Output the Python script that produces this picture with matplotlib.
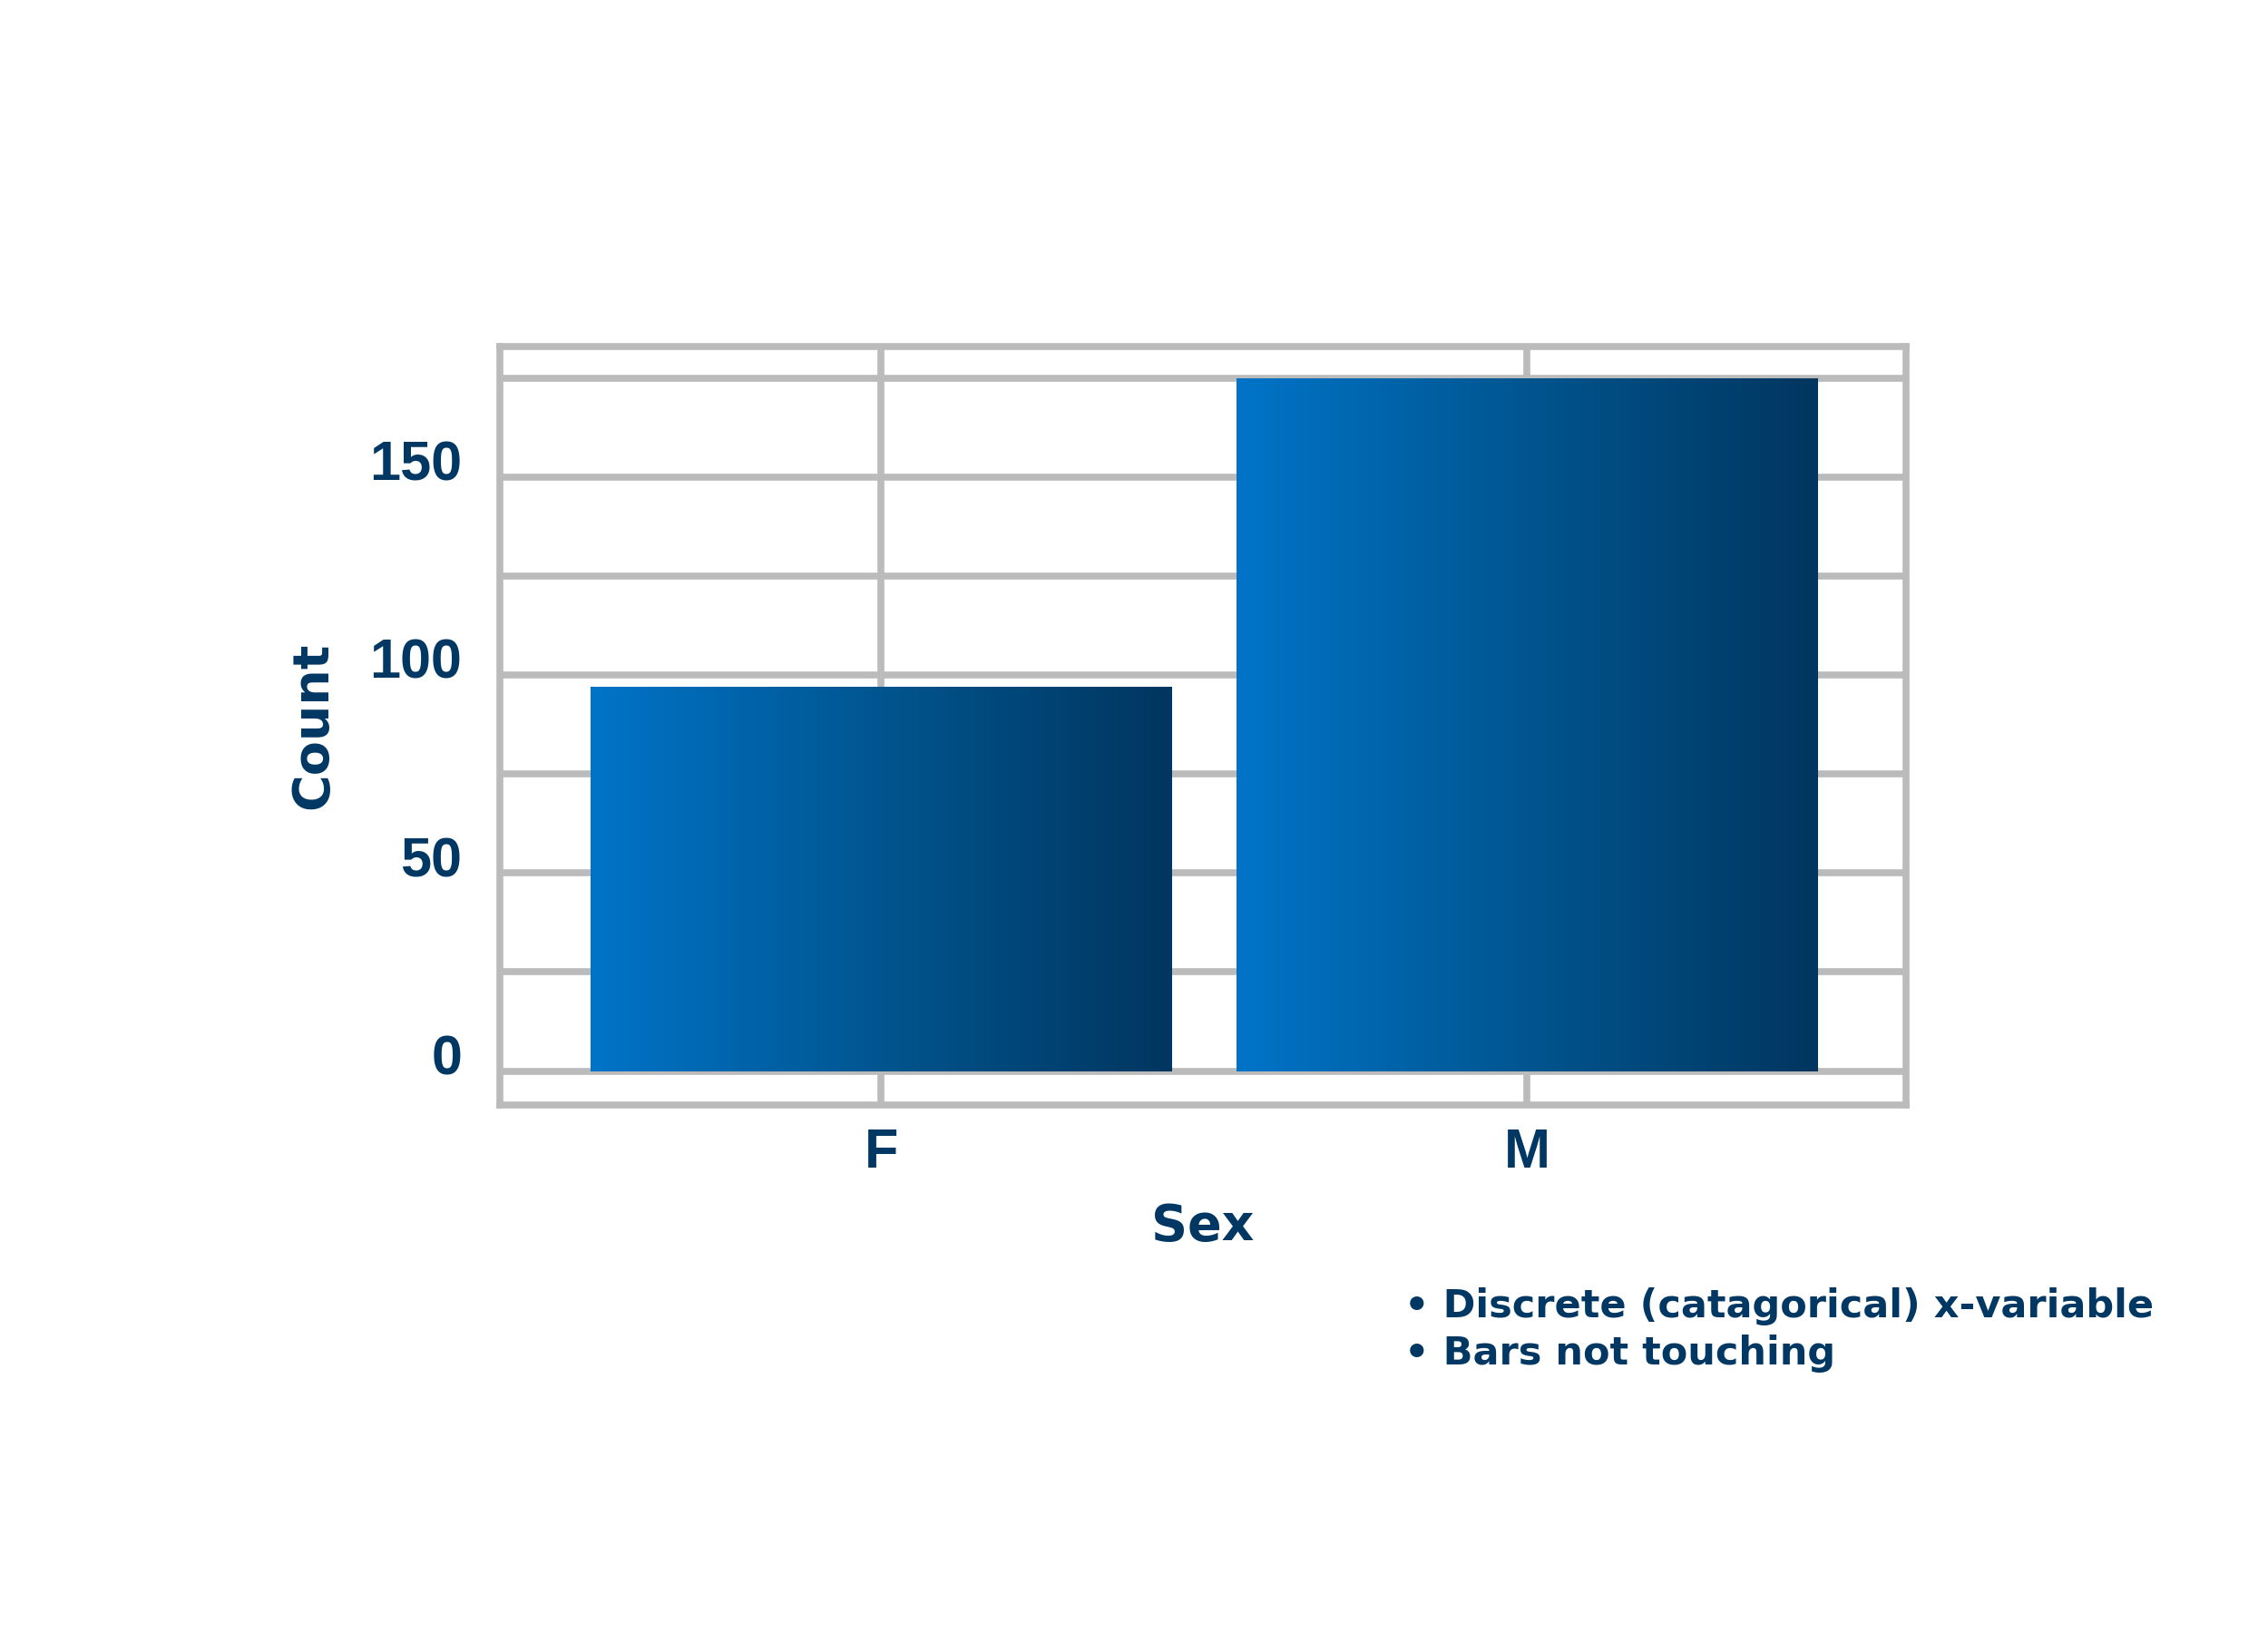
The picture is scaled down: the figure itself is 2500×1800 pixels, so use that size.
import matplotlib
matplotlib.use("Agg")
import matplotlib.pyplot as plt
import numpy as np
from matplotlib.colors import LinearSegmentedColormap
from matplotlib.transforms import ScaledTranslation

# data
categories = ["F", "M"]
counts = [97, 175]
label_ticks = [0, 50, 100, 150]
grid_ticks = [0, 25, 50, 75, 100, 125, 150, 175]
notes = ["\u2022 Discrete (catagorical) x-variable", "\u2022 Bars not touching"]

TEXT = "#003763"
GRID = "#BBBBBB"
FONT = "Liberation Sans"
HEAVY = "DejaVu Sans"


def main():
    plt.rcParams["font.family"] = [FONT, "DejaVu Sans"]
    plt.rcParams["font.weight"] = "bold"

    fig = plt.figure(figsize=(25, 18), dpi=100)
    ax = fig.add_axes([0.2204, 0.3235, 0.6198, 0.4645])

    x = np.arange(len(categories))
    bars = ax.bar(x, counts, width=0.9, color="none", edgecolor="none", zorder=3)

    # horizontal gradient fill, clipped to each bar
    cmap = LinearSegmentedColormap.from_list("bar", ["#0074C8", "#00558F", "#00365F"])
    grad = np.linspace(0, 1, 256).reshape(1, -1)
    for b in bars:
        x0, y0 = b.get_x(), b.get_y()
        im = ax.imshow(grad, extent=[x0, x0 + b.get_width(), y0, y0 + b.get_height()],
                       aspect="auto", cmap=cmap, zorder=3, interpolation="bilinear")
        im.set_clip_path(b)

    ax.set_xlim(-0.59, 1.586)
    ax.set_ylim(-8.5, 183)

    ax.set_xticks(x)
    ax.set_xticklabels(categories)
    ax.set_yticks(grid_ticks)
    ax.set_yticklabels([str(v) if v in label_ticks else "" for v in grid_ticks])
    ax.tick_params(axis="both", length=0, labelsize=44, labelcolor=TEXT)
    ax.tick_params(axis="y", pad=30)
    ax.tick_params(axis="x", pad=18)

    # labels sit a bit above their gridline
    offset = ScaledTranslation(0, 0.18, fig.dpi_scale_trans)
    for lab in ax.get_yticklabels():
        lab.set_transform(lab.get_transform() + offset)

    ax.grid(True, color=GRID, linewidth=5.5, zorder=1)
    ax.set_axisbelow(True)
    for sp in ax.spines.values():
        sp.set_color(GRID)
        sp.set_linewidth(5.5)

    ax.set_xlabel("Sex", fontsize=40, color=TEXT, family=HEAVY, fontweight="bold", labelpad=18)
    ax.set_ylabel("Count", fontsize=40, color=TEXT, family=HEAVY, fontweight="bold", labelpad=25)

    ys = [0.200, 0.171]
    for note, y in zip(notes, ys):
        fig.text(0.619, y, note, fontsize=31, color=TEXT, family=HEAVY, fontweight="bold",
                 ha="left", va="center")

    fig.savefig("out.png", dpi=100, facecolor="white")
    plt.close(fig)


if __name__ == '__main__':
    main()
